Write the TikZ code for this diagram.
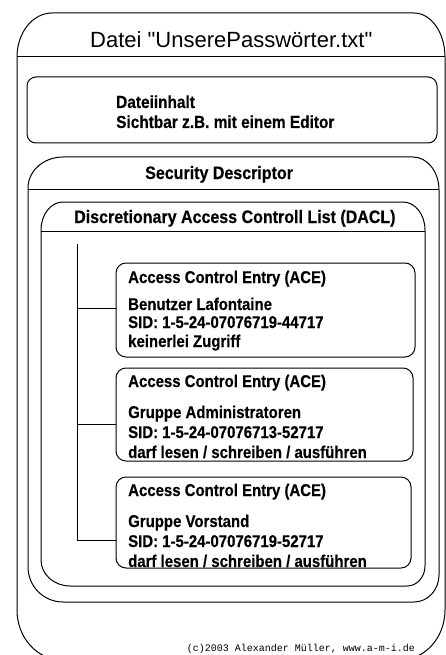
\documentclass[tikz,border=0pt]{standalone}
\usepackage{fontspec}
\setmainfont{Liberation Sans}
\setmonofont{Liberation Mono}
% title face with straight quotation marks
\newfontfamily\titlefont[Ligatures=TeXOff]{Liberation Sans}
% slightly condensed, heavy bold face for the box texts
\newfontfamily\narrowsans[FakeStretch=0.88, FakeBold=0.4]{Liberation Sans}
\newfontfamily\narrowhead[FakeStretch=0.89, FakeBold=0.4]{Liberation Sans}
\begin{document}
\begin{tikzpicture}[x=1pt,y=-1pt,
  frame/.style={draw=black, line width=1pt},
  entrybox/.style={draw=black, line width=1pt, rounded corners=10pt,
    inner sep=0pt, outer sep=0pt, anchor=north west},
  titletext/.style={font=\titlefont\fontsize{22}{26}\selectfont, anchor=base west, inner sep=0pt},
  heading/.style={font=\narrowhead\fontsize{18}{20}\selectfont\bfseries, anchor=base west, inner sep=0pt},
  body/.style={font=\narrowsans\fontsize{17}{19}\selectfont\bfseries, anchor=base west, inner sep=0pt},
  content/.style={font=\narrowsans\fontsize{17.5}{19}\selectfont\bfseries, anchor=base west, inner sep=0pt},
  credit/.style={font=\fontsize{10}{12}\selectfont\ttfamily, anchor=base east, inner sep=0pt}
]
\useasboundingbox (0,0) rectangle (446,655);
\clip (0,0) rectangle (446,655);

% file container
\draw[frame] (17,610) -- (17,57)
  arc[start angle=180, end angle=270, x radius=35, y radius=44] -- (414,13)
  arc[start angle=270, end angle=360, x radius=31, y radius=44] -- (445,610)
  arc[start angle=0, end angle=90, x radius=45, y radius=50] -- (62,660)
  arc[start angle=90, end angle=180, x radius=45, y radius=50] -- cycle;
\draw[frame] (17,57) -- (445,57);
\node[titletext] (title) at (90,48) {Datei "UnserePasswörter.txt"};

% file content
\node[entrybox, rounded corners=9pt, minimum width=410, minimum height=66] (contentbox) at (27,77) {};
\node[content] (c1) at (116,108) {Dateiinhalt};
\node[content] (c2) at (116,128) {Sichtbar z.B. mit einem Editor};

% security descriptor
\draw[frame] (28,567) -- (28,188)
  arc[start angle=180, end angle=270, x radius=35, y radius=31] -- (413,157)
  arc[start angle=270, end angle=360, x radius=26, y radius=33] -- (439,575)
  arc[start angle=0, end angle=90, x radius=25, y radius=27] -- (63,602)
  arc[start angle=90, end angle=180, x radius=35, y radius=35] -- cycle;
\draw[frame] (28,189) -- (439,189);
\node[heading] (sd) at (145,179) {Security Descriptor};

% DACL
\draw[frame] (41,560) -- (41,230)
  arc[start angle=180, end angle=270, x radius=22, y radius=28] -- (403,202)
  arc[start angle=270, end angle=360, x radius=22, y radius=28] -- (425,566)
  arc[start angle=0, end angle=90, x radius=18, y radius=20] -- (70,586)
  arc[start angle=90, end angle=180, x radius=29, y radius=26] -- cycle;
\draw[frame] (41,231) -- (425,231);
\node[heading] (dacl) at (74,223) {Discretionary Access Controll List (DACL)};

% access control entries
\node[entrybox, minimum width=299, minimum height=94] (ace1) at (116,263) {};
\node[entrybox, minimum width=297, minimum height=93] (ace2) at (116,368) {};
\node[entrybox, minimum width=295, minimum height=91] (ace3) at (116,477) {};

\node[body] (a1t) at (128,283) {Access Control Entry (ACE)};
\node[body] (a1a) at (128,310) {Benutzer Lafontaine};
\node[body] (a1b) at (128,328) {SID: 1-5-24-07076719-44717};
\node[body] (a1c) at (128,347) {keinerlei Zugriff};

\node[body] (a2t) at (128,387) {Access Control Entry (ACE)};
\node[body] (a2a) at (128,418) {Gruppe Administratoren};
\node[body] (a2b) at (128,438) {SID: 1-5-24-07076713-52717};
\node[body] (a2c) at (128,458) {darf lesen / schreiben / ausführen};

\node[body] (a3t) at (128,496) {Access Control Entry (ACE)};
\node[body] (a3a) at (128,527) {Gruppe Vorstand};
\node[body] (a3b) at (128,547) {SID: 1-5-24-07076719-52717};
\node[body] (a3c) at (128,567) {darf lesen / schreiben / ausführen};

% list connectors
\coordinate (trunk) at (77,244);
\coordinate (b1) at (0,308);
\coordinate (b2) at (0,424);
\coordinate (b3) at (0,540);
\draw[frame] (trunk) |- (ace3.west |- b3);
\draw[frame] (trunk |- b1) -- (ace1.west |- b1);
\draw[frame] (trunk |- b2) -- (ace2.west |- b2);

\node[credit] (copy) at (415,651) {(c)2003 Alexander Müller, www.a-m-i.de};
\end{tikzpicture}
\end{document}
